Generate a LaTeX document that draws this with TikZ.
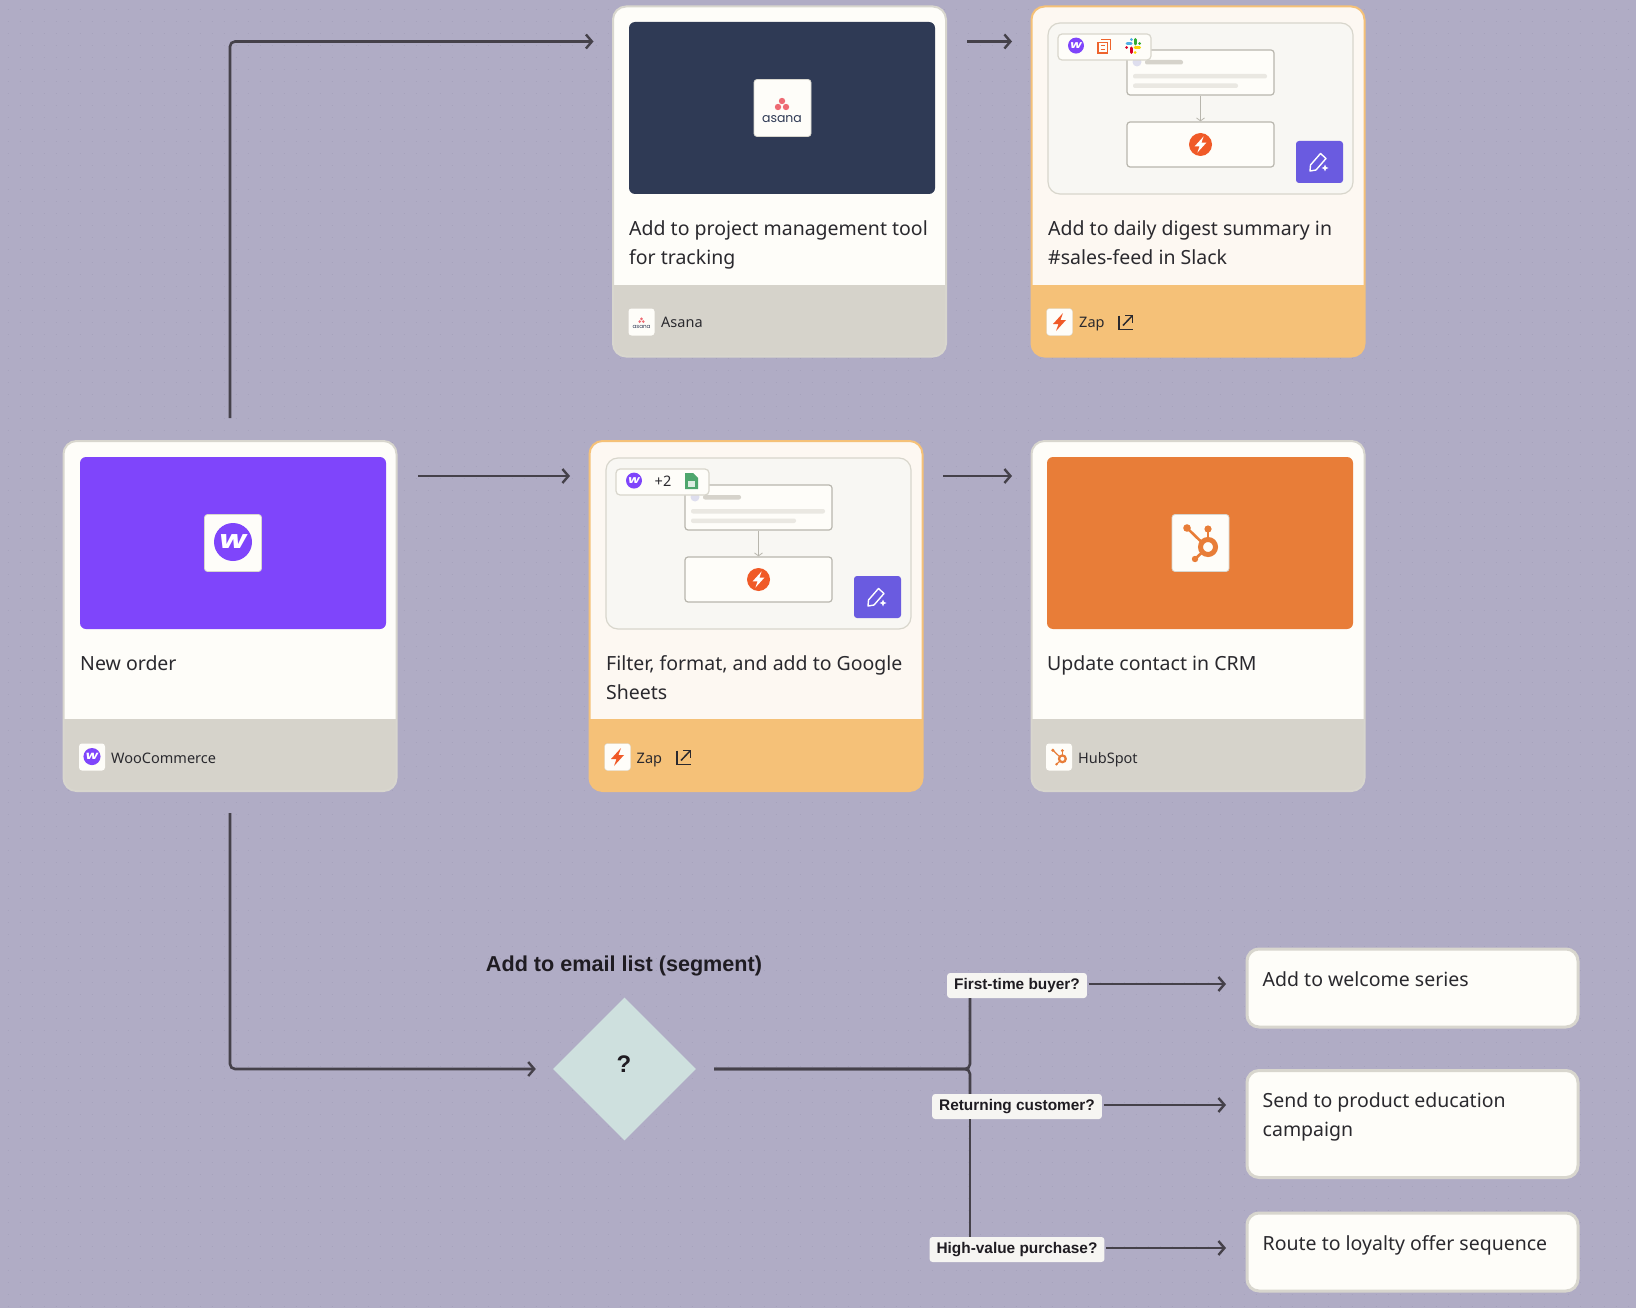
\documentclass[tikz,border=0pt]{standalone}
\usepackage{fontspec}
\setmainfont{Noto Sans}
\newfontfamily\labelface{Liberation Sans}
\newfontfamily\wooface{Poppins}
\newfontfamily\asanaface{Poppins}
\usetikzlibrary{arrows.meta,shapes.geometric,calc}
\definecolor{canvas}{HTML}{B0ACC5}
\definecolor{griddot}{HTML}{A6A2BC}
\definecolor{cardtop}{HTML}{FEFDF9}
\definecolor{cardfoot}{HTML}{D6D3CB}
\definecolor{cardedge}{HTML}{D8D6CE}
\definecolor{zaptop}{HTML}{FDF8F2}
\definecolor{zapfoot}{HTML}{F5C178}
\definecolor{panelfill}{HTML}{F8F7F3}
\definecolor{paneledge}{HTML}{D8D6CC}
\definecolor{ink}{HTML}{2A292E}
\definecolor{darkink}{HTML}{1F1C22}
\definecolor{flowink}{HTML}{45414A}
\definecolor{navy}{HTML}{2F3A55}
\definecolor{wooviolet}{HTML}{7F45FB}
\definecolor{huborange}{HTML}{E87D38}
\definecolor{zaporange}{HTML}{F05A28}
\definecolor{btnviolet}{HTML}{6A5BE0}
\definecolor{asanapink}{HTML}{EE6A73}
\definecolor{diamondfill}{HTML}{CEE0DE}
\definecolor{labelfill}{HTML}{F6F5F2}
\definecolor{sheetgreen}{HTML}{4EA66D}
\definecolor{paneldot}{HTML}{DEDEEE}
\newcommand{\bodyfont}{\fontsize{19.5}{29}\selectfont}
\newcommand{\footfont}{\fontsize{14.5}{18}\selectfont}
\tikzset{
    cardbase/.style={rectangle, rounded corners=13pt, line width=2pt, minimum width=333pt, minimum height=350pt, inner sep=0pt},
    appcard/.style={cardbase, draw=cardedge, fill=cardtop, path picture={\fill[cardfoot, sharp corners] ([yshift=72pt]path picture bounding box.south west) rectangle (path picture bounding box.south east);}},
    zapcard/.style={cardbase, draw=zapfoot, fill=zaptop, path picture={\fill[zapfoot, sharp corners] ([yshift=72pt]path picture bounding box.south west) rectangle (path picture bounding box.south east);}},
    imgbox/.style={rectangle, rounded corners=6pt, minimum width=306pt, minimum height=172pt, inner sep=0pt},
    logobox/.style={rectangle, rounded corners=3pt, fill=cardtop, draw=cardedge, line width=0.8pt, minimum width=57pt, minimum height=57pt, inner sep=0pt},
    footbox/.style={rectangle, rounded corners=3pt, fill=cardtop, minimum width=26pt, minimum height=27pt, inner sep=0pt},
    cardtext/.style={anchor=base west, inner sep=0pt, text=ink, font=\bodyfont, align=left},
    foottext/.style={anchor=base west, inner sep=0pt, text=ink, font=\footfont},
    endbox/.style={rectangle, rounded corners=12pt, draw=cardedge, fill=cardtop, line width=3pt, minimum width=331pt, inner sep=0pt},
    asklabel/.style={rectangle, rounded corners=3pt, fill=labelfill, text=darkink, inner xsep=7pt, inner ysep=0pt, minimum height=25pt, text height=11pt, text depth=3pt, font=\labelface\bfseries\fontsize{15.4}{18}\selectfont},
    flow/.style={draw=flowink, line width=2.6pt, rounded corners=5pt},
    arrow/.style={flow, -{Straight Barb[length=6pt,width=14pt,line width=2.4pt]}},
    panelbox/.style={rectangle, rounded corners=3pt, draw=paneledge!85!black, fill=cardtop, line width=1.2pt, minimum width=147pt, minimum height=45pt, inner sep=0pt}
}
% one small panel, as drawn in both zap cards
\newcommand{\zappanel}[3]{
    \begin{scope}[shift={(#2,#3)}]
        \node[rectangle, rounded corners=12pt, draw=paneledge, fill=panelfill, line width=1.2pt, minimum width=305pt, minimum height=171pt, inner sep=0pt] (#1panel) at (152.5,86.5) {};
        \node[panelbox] (#1up) at (152.5,50.5) {};
        \node[panelbox] (#1low) at (152.5,122.5) {};
        \draw[paneledge!85!black, line width=1.2pt, -{Straight Barb[length=3pt,width=8pt,line width=0.8pt]}] (#1up) -- (#1low);
        \fill[paneldot] (89,40) circle (4.5);
        \fill[cardfoot, rounded corners=2pt] (97,38) rectangle (135,42.5);
        \fill[cardfoot!50!cardtop, rounded corners=2pt] (85,52) rectangle (219,56.5);
        \fill[cardfoot!50!cardtop, rounded corners=2pt] (85,61.5) rectangle (190,66);
        \node[circle, fill=zaporange, minimum size=23pt, inner sep=0pt] (#1bolt) at (152.5,122.5) {};
        \zapbolt{white}{152.5}{122.5}{0.9}
        \node[rectangle, rounded corners=3pt, fill=btnviolet, minimum width=47pt, minimum height=42pt, inner sep=0pt] (#1btn) at (271.5,140) {};
        \draw[white, line width=1.4pt, line join=round] (262,149) -- (262.5,143) -- (272.5,131.5) -- (278,136.5) -- (268,148) -- cycle;
        \fill[white] (277,142.5) -- (278,145) -- (280.5,146) -- (278,147) -- (277,149.5) -- (276,147) -- (273.5,146) -- (276,145) -- cycle;
        \node[rectangle, rounded corners=4pt, draw=paneledge, fill=cardtop, line width=1.2pt, minimum width=93pt, minimum height=26pt, inner sep=0pt] (#1chip) at (56.5,25) {};
    \end{scope}
}
\newcommand{\zapbolt}[4]{
    \fill[#1, shift={(#2,#3)}, scale=#4] (3.5,-9) -- (-6.5,2) -- (-1,2) -- (-3.5,9) -- (6.5,-2) -- (1,-2) -- cycle;
}
\newcommand{\openicon}[2]{
    \begin{scope}[shift={(#1,#2)}]
        \draw[ink, line width=1.5pt] (0,-7) -- (0,7) -- (14,7);
        \draw[ink, line width=1.5pt] (4,3) -- (13,-6.5);
        \draw[ink, line width=1.5pt] (6,-7) -- (13.5,-7) -- (13.5,0);
    \end{scope}
}
\newcommand{\wooicon}[4]{
    \begin{scope}[shift={(#2,#3)}, scale=#4, transform shape]
        \node[circle, fill=wooviolet, minimum size=38pt, inner sep=0pt, text=white, font=\wooface\fontsize{25}{25}\selectfont\bfseries\itshape] (#1) at (0,-1) {\scalebox{1.25}[1]{w}};
    \end{scope}
}
\newcommand{\asanamark}[4]{
    \begin{scope}[shift={(#2,#3)}, scale=#4, transform shape]
        \fill[asanapink] (0,-8) circle (3.2);
        \fill[asanapink] (-4,-2) circle (3.2);
        \fill[asanapink] (4,-2) circle (3.2);
        \node[text=navy, inner sep=0pt, font=\asanaface\fontsize{12.5}{14}\selectfont] (#1) at (0,10) {asana};
    \end{scope}
}
\newcommand{\hubmark}[3]{
    \begin{scope}[shift={(#1,#2)}, scale=#3]
        \draw[huborange, line width={#3*5pt}] (7.5,4) circle (7.5);
        \draw[huborange, line width={#3*2.6pt}] (7.5,-4) -- (7.5,-14);
        \draw[huborange, line width={#3*2.6pt}] (2,0) -- (-13.5,-15);
        \draw[huborange, line width={#3*2.6pt}] (2,9) -- (-5.5,16);
        \fill[huborange] (7.5,-14) circle (3.6);
        \fill[huborange] (-13.5,-15) circle (3.8);
        \fill[huborange] (-5.5,16) circle (3.2);
    \end{scope}
}
\begin{document}
\begin{tikzpicture}[x=1pt, y=-1pt]
    \useasboundingbox (0,0) rectangle (1636,1308);
    \fill[canvas] (0,0) rectangle (1636,1308);
    \foreach \row in {0,...,108}
        \draw[griddot, line width=1pt, dash pattern=on 1pt off 11pt] (7.5,10+12*\row) -- (1636,10+12*\row);

    % cards
    \node[appcard] (asana) at (779.5,181.5) {};
    \node[zapcard] (digest) at (1198,181.5) {};
    \node[appcard] (woo) at (230,616) {};
    \node[zapcard] (sheets) at (756,616) {};
    \node[appcard] (crm) at (1198,616) {};

    % card pictures
    \node[imgbox, fill=navy] (asanaImg) at (782,108) {};
    \node[logobox] (asanaLogo) at (782.5,108) {};
    \asanamark{asanaWord}{782}{109}{1}
    \node[imgbox, fill=wooviolet] (wooImg) at (233,543) {};
    \node[logobox] (wooLogo) at (233,543) {};
    \wooicon{wooMark}{233}{543}{1}
    \node[imgbox, fill=huborange] (crmImg) at (1200,543) {};
    \node[logobox] (crmLogo) at (1200.5,543) {};
    \hubmark{1200.5}{543}{1}
    \zappanel{digest}{1048}{22}
    \zappanel{sheets}{606}{457}

    % chips on the panels
    \wooicon{digestWoo}{1076}{46}{0.42}
    \draw[zaporange!70!huborange, line width=1.2pt] (1101,39.5) -- (1110.5,39.5) -- (1110.5,50);
    \draw[zaporange!70!huborange, line width=1.2pt] (1098,42.5) rectangle (1107.5,53);
    \draw[zaporange!70!huborange, line width=1pt] (1100.5,46) -- (1105,46) (1100.5,49.5) -- (1105,49.5);
    \begin{scope}[line width=3pt, line cap=round]
        \draw[cyan!80!blue!70!white] (1127,44) -- (1131,44) (1131.5,39.5) -- (1131.5,39.6);
        \draw[green!60!black!80!white] (1135,39.5) -- (1135,44) (1139.5,44) -- (1139.6,44);
        \draw[yellow!70!orange] (1135,48) -- (1139.5,48) (1135,52.5) -- (1135.1,52.5);
        \draw[red!70!violet] (1131,48) -- (1131,52.5) (1126.5,48) -- (1126.6,48);
    \end{scope}
    \wooicon{sheetsWoo}{634}{481}{0.42}
    \node[text=ink, inner sep=0pt, font=\fontsize{14.5}{16}\selectfont] (sheetsMore) at (663,481) {+2};
    \fill[sheetgreen] (685,473) -- (693,473) -- (698,478) -- (698,489) -- (685,489) -- cycle;
    \fill[white!80!sheetgreen] (688,481) rectangle (695,486.5);

    % card texts
    \node[cardtext] (asanaText) at (629,265) {Add to project management tool\\for tracking};
    \node[cardtext] (digestText) at (1048,265) {Add to daily digest summary in\\\#sales-feed in Slack};
    \node[cardtext] (wooText) at (80,670) {New order};
    \node[cardtext] (sheetsText) at (606,699) {Filter, format, and add to Google\\Sheets};
    \node[cardtext] (crmText) at (1047,670) {Update contact in CRM};

    % card footers
    \node[footbox] (asanaFoot) at (641.5,322) {};
    \asanamark{asanaSmall}{641.5}{322.5}{0.45}
    \node[foottext] (asanaName) at (661,327.5) {Asana};
    \node[footbox, draw=cardedge] (digestFoot) at (1059.5,322) {};
    \zapbolt{zaporange}{1059.5}{322}{1}
    \node[foottext] (digestName) at (1079,327.5) {Zap};
    \openicon{1119}{322.5}
    \node[footbox] (wooFoot) at (92,757) {};
    \wooicon{wooSmall}{92}{757}{0.45}
    \node[foottext] (wooName) at (111,763.5) {WooCommerce};
    \node[footbox, draw=cardedge] (sheetsFoot) at (617.5,757) {};
    \zapbolt{zaporange}{617.5}{757}{1}
    \node[foottext] (sheetsName) at (636.5,763.5) {Zap};
    \openicon{677}{757.5}
    \node[footbox] (crmFoot) at (1059,757) {};
    \hubmark{1059}{757}{0.45}
    \node[foottext] (crmName) at (1078,763.5) {HubSpot};

    % decision and its branches
    \node[diamond, aspect=1, fill=diamondfill, minimum width=143pt, minimum height=143pt, inner sep=0pt] (ask) at (624.5,1069) {};
    \node[inner sep=0pt, text=darkink, font=\labelface\bfseries\fontsize{24}{24}\selectfont] (askMark) at (624,1064) {?};
    \node[anchor=base, inner sep=0pt, text=darkink, font=\labelface\bfseries\fontsize{21.6}{25}\selectfont] (askTitle) at (624,971) {Add to email list (segment)};
    \node[endbox, minimum height=78pt] (welcome) at (1412.5,988) {};
    \node[endbox, minimum height=107pt] (educate) at (1412.5,1124) {};
    \node[endbox, minimum height=78pt] (loyalty) at (1412.5,1252) {};
    \node[cardtext] (welcomeText) at (1262.5,986) {Add to welcome series};
    \node[cardtext] (educateText) at (1262.5,1136) {Send to product education\\campaign};
    \node[cardtext] (loyaltyText) at (1262.5,1250) {Route to loyalty offer sequence};
    \node[asklabel] (firstBuyer) at (1017,985.5) {First-time buyer?};
    \node[asklabel] (returning) at (1017,1106.5) {Returning customer?};
    \node[asklabel] (highValue) at (1017,1249.5) {High-value purchase?};

    % free ends of the arrows
    \coordinate (asanaIn) at (593.5,41.5);
    \coordinate (digestOut) at (967,41.5);
    \coordinate (digestIn) at (1012,41.5);
    \coordinate (wooOut) at (418,476);
    \coordinate (sheetsIn) at (570,476);
    \coordinate (sheetsOut) at (943,476);
    \coordinate (crmIn) at (1012,476);
    \coordinate (branch) at (970,1069);
    \coordinate (welcomeIn) at (1226,984);
    \coordinate (educateIn) at (1226,1105);
    \coordinate (loyaltyIn) at (1226,1248);

    \draw[arrow, shorten <=22pt] (woo.north) -- (woo.north |- asanaIn) -- (asanaIn);
    \draw[arrow] (digestOut) -- (digestIn);
    \draw[arrow] (wooOut) -- (sheetsIn);
    \draw[arrow] (sheetsOut) -- (crmIn);
    \draw[arrow, shorten <=21pt, shorten >=17pt] (woo.south) -- (woo.south |- ask.west) -- (ask.west);
    \draw[flow, shorten <=18pt] (ask.east) -- (branch) -- (branch |- firstBuyer.south);
    \draw[flow, shorten <=18pt] (ask.east) -- (branch) -- (branch |- returning.north);
    \draw[flow] (branch |- returning.south) -- (branch |- highValue.north);
    \draw[arrow, shorten <=1.5pt] (firstBuyer.east |- welcomeIn) -- (welcomeIn);
    \draw[arrow, shorten <=1.5pt] (returning.east |- educateIn) -- (educateIn);
    \draw[arrow, shorten <=1.5pt] (highValue.east |- loyaltyIn) -- (loyaltyIn);
\end{tikzpicture}
\end{document}
